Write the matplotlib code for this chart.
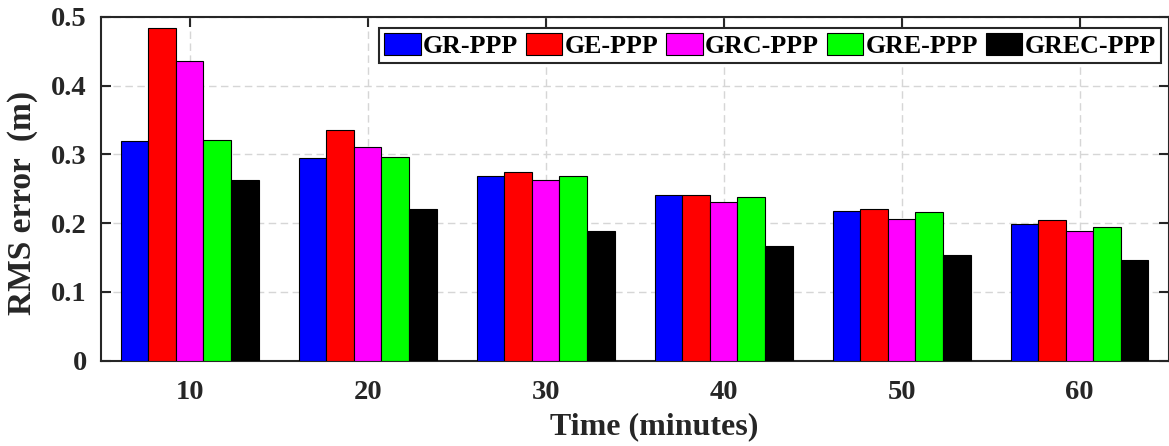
import matplotlib
matplotlib.use("Agg")
import matplotlib.pyplot as plt
import numpy as np

times = [10, 20, 30, 40, 50, 60]
series_names = ["GR-PPP", "GE-PPP", "GRC-PPP", "GRE-PPP", "GREC-PPP"]
gr_ppp = [0.319, 0.295, 0.268, 0.241, 0.217, 0.198]
ge_ppp = [0.484, 0.336, 0.274, 0.241, 0.220, 0.204]
grc_ppp = [0.435, 0.311, 0.262, 0.230, 0.206, 0.189]
gre_ppp = [0.321, 0.296, 0.269, 0.238, 0.216, 0.195]
grec_ppp = [0.262, 0.220, 0.188, 0.166, 0.153, 0.146]
colors = ["#0000ff", "#ff0000", "#ff00ff", "#00ff00", "#000000"]
yticks = [0, 0.1, 0.2, 0.3, 0.4, 0.5]
ytick_labels = ["0", "0.1", "0.2", "0.3", "0.4", "0.5"]

FONT = "Liberation Serif"
TXT = "#262626"
W, H = 1169, 446
fig = plt.figure(figsize=(W / 100, H / 100), dpi=100)
left, right, top, bottom = 100.7, 1168.5, 16.7, 360.7
ax = fig.add_axes([left / W, 1 - bottom / H, (right - left) / W, (bottom - top) / H])

data = [gr_ppp, ge_ppp, grc_ppp, gre_ppp, grec_ppp]
x = np.array(times, dtype=float)
bw = 1.55
for i, (vals, c, name) in enumerate(zip(data, colors, series_names)):
    ax.bar(x + (i - 2) * bw, vals, width=bw, color=c, edgecolor="black",
           linewidth=0.8, label=name, zorder=3)

ax.set_xlim(5, 65)
ax.set_ylim(0, 0.5)
ax.set_xticks(times)
ax.set_xticklabels([str(t) for t in times])
ax.set_yticks(yticks)
ax.set_yticklabels(ytick_labels)
ax.set_axisbelow(True)
ax.grid(True, color="#d6d6d6", linestyle=(0, (5.4, 3.2)), linewidth=1.0, zorder=0)

for s in ax.spines.values():
    s.set_linewidth(1.5)
    s.set_color(TXT)
ax.tick_params(direction="in", length=7, width=1.5, color=TXT, top=True, right=True,
               labelcolor=TXT)
ax.tick_params(axis="x", pad=14)
ax.tick_params(axis="y", pad=10)
for lab in ax.get_xticklabels() + ax.get_yticklabels():
    lab.set_fontfamily(FONT)
    lab.set_fontweight("bold")
    lab.set_fontsize(20.5)

fig.text(654.5 / W, 1 - 426.7 / H, "Time (minutes)", family=FONT, weight="bold",
         fontsize=23, color=TXT, ha="center", va="center")
fig.text(23 / W, 1 - 202.5 / H, "RMS error  (m)", family=FONT, weight="bold",
         fontsize=24, color=TXT, ha="center", va="center", rotation=90)

leg = ax.legend(loc="upper right", bbox_to_anchor=((1161 - left) / (right - left), 1 - (28 - top) / (bottom - top)),
                ncol=5, prop={"family": FONT, "weight": "bold", "size": 18.6},
                frameon=True, fancybox=False, framealpha=1, edgecolor=TXT,
                handlelength=1.4, handleheight=0.9, handletextpad=0.1,
                columnspacing=0.3, borderpad=0.2, borderaxespad=0.0)
leg.get_frame().set_linewidth(1.5)
for t in leg.get_texts():
    t.set_color("black")

fig.savefig("out.png", dpi=100)
